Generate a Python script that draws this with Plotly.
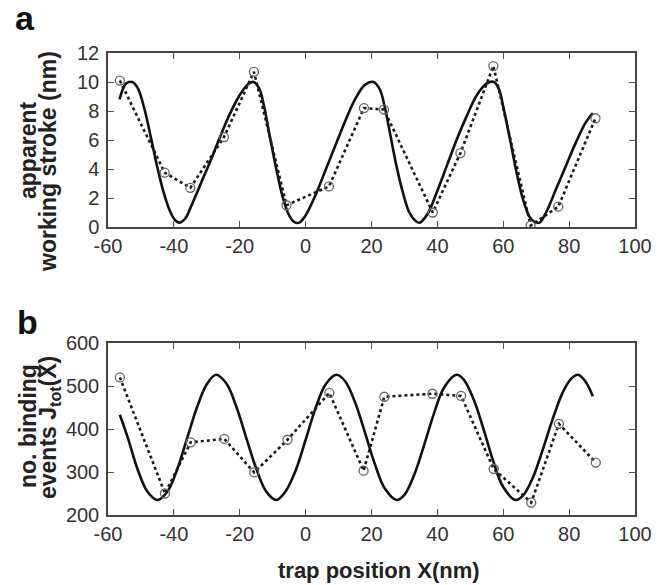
import plotly.graph_objects as go

OFF = 8           # the page body has an 8px margin
W, H = 664 - OFF, 585 - OFF

# ---- Panel a data ----
a_fit_x = [-56.5, -55.5, -54.5, -52.7, -51, -49, -47, -45, -43, -41, -39.5, -38.2, -36.5, -35, -32, -29, -26, -23, -20,
           -17.5, -15.8, -14, -12.5, -11, -9, -7, -5, -3.5, -1.9, 0, 3, 6, 9, 12, 15, 18, 20.6, 22.5, 24, 25.5,
           27.5, 29.5, 31.5, 33.5, 34.6, 37, 40, 43, 46, 49, 52, 55, 57.2, 58.7, 60, 62, 64, 66, 68, 69.5,
           71, 73, 76, 79, 82, 85, 87.2]
a_fit_y = [8.8, 9.5, 9.9, 10.0, 9.6, 8.2, 6.2, 4.1, 2.3, 1.0, 0.45, 0.3, 0.6, 1.3, 2.9, 4.5, 6.2, 7.8, 9.1,
           9.85, 10.0, 9.5, 8.2, 6.4, 4.1, 2.1, 0.8, 0.35, 0.3, 0.8, 2.2, 3.9, 5.6, 7.3, 8.8, 9.8, 10.0, 9.5, 8.3, 6.6,
           4.3, 2.4, 1.0, 0.4, 0.3, 0.9, 2.5, 4.3, 6.1, 7.7, 9.1, 9.9, 10.0, 9.5, 8.3, 6.1, 3.8, 1.9, 0.7, 0.35,
           0.3, 1.0, 2.6, 4.2, 5.8, 7.2, 7.85]
a_data_x = [-56.4, -42.8, -35.0, -24.8, -15.7, -5.8, 7.1, 17.7, 23.8, 38.6, 47.0, 57.0, 68.3, 76.7, 88.0]
a_data_y = [10.1, 3.75, 2.7, 6.2, 10.7, 1.5, 2.8, 8.2, 8.1, 1.0, 5.1, 11.1, 0.1, 1.4, 7.5]

# ---- Panel b data ----
b_fit_x = [-56.4, -54, -51, -48, -45, -42, -39, -36, -33, -30, -27.2, -24, -21, -18, -15, -12, -8.9,
           -6, -3, 0, 3, 6, 9.3, 12, 15, 18, 21, 24, 27.6, 30, 33, 36, 39, 42, 45.8,
           48, 51, 54, 57, 60, 63.7, 66, 69, 72, 75, 78, 80.5, 82.7, 85, 87.2]
b_fit_y = [433, 380, 306, 254, 235, 254, 306, 378, 450, 504, 526, 505, 451, 379, 308, 255, 235,
           256, 304, 375, 448, 503, 526, 511, 462, 392, 319, 262, 235, 247, 294, 363, 437, 496, 526,
           515, 469, 400, 324, 265, 235, 245, 287, 352, 423, 484, 516, 526, 510, 476]
b_data_x = [-56.4, -42.7, -34.9, -24.7, -15.6, -5.5, 7.2, 17.6, 23.9, 38.5, 47.2, 57.1, 68.5, 76.9, 88.1]
b_data_y = [520, 250, 369, 377, 299, 375, 484, 303, 475, 482, 477, 307, 229, 412, 322]

x_ticks = [-60, -40, -20, 0, 20, 40, 60, 80, 100]
x_tick_labels = ["-60", "-40", "-20", "0", "20", "40", "60", "80", "100"]
a_ticks = [0, 2, 4, 6, 8, 10, 12]
b_ticks = [200, 300, 400, 500, 600]


def px(x):
    return (x - OFF) / W


def py(y):
    return 1 - (y - OFF) / H


fig = go.Figure()

line_solid = dict(color="#111111", width=2.6, shape="spline", smoothing=1.0)
line_dash = dict(color="#1a1a1a", width=2.6, dash="3px,3px")
marker = dict(symbol="circle-open", size=9, color="#666666", line=dict(width=1.3, color="#666666"))

fig.add_trace(go.Scatter(x=a_fit_x, y=a_fit_y, mode="lines", line=line_solid, xaxis="x", yaxis="y",
                         showlegend=False, hoverinfo="skip"))
fig.add_trace(go.Scatter(x=a_data_x, y=a_data_y, mode="lines+markers", line=line_dash, marker=marker,
                         xaxis="x", yaxis="y", showlegend=False))
fig.add_trace(go.Scatter(x=b_fit_x, y=b_fit_y, mode="lines", line=line_solid, xaxis="x2", yaxis="y2",
                         showlegend=False, hoverinfo="skip"))
fig.add_trace(go.Scatter(x=b_data_x, y=b_data_y, mode="lines+markers", line=line_dash, marker=marker,
                         xaxis="x2", yaxis="y2", showlegend=False))

tickfont = dict(family="Liberation Sans, Arial, sans-serif", size=20, color="#333333")
axis_common = dict(showline=True, linecolor="#444444", linewidth=1.5, mirror="ticks", ticks="inside",
                   ticklen=6, tickwidth=1, tickcolor="#555555", showgrid=False, zeroline=False,
                   tickfont=tickfont, automargin=False)

xdom = [px(108), px(635)]
fig.update_layout(
    width=W, height=H, margin=dict(l=0, r=0, t=0, b=0),
    paper_bgcolor="white", plot_bgcolor="white",
    xaxis=dict(domain=xdom, range=[-60, 100], tickvals=x_ticks, ticktext=x_tick_labels, anchor="y", **axis_common),
    yaxis=dict(domain=[py(227), py(53)], range=[0, 12], tickvals=a_ticks, anchor="x", ticklabelstandoff=3,
               **axis_common),
    xaxis2=dict(domain=xdom, range=[-60, 100], tickvals=x_ticks, ticktext=x_tick_labels, anchor="y2", **axis_common),
    yaxis2=dict(domain=[py(515), py(343)], range=[200, 600], tickvals=b_ticks, anchor="x2", ticklabelstandoff=3,
                **axis_common),
)

bold = dict(family="Liberation Sans, Arial, sans-serif", size=23, color="#222222")
panel_font = dict(family="Liberation Sans, Arial", size=34, color="#111111")
annots = [
    dict(text="<b>a</b>", x=px(25), y=py(18), font=panel_font),
    dict(text="<b>b</b>", x=px(27), y=py(322), font=panel_font),
    dict(text="<b>apparent</b>", x=px(28), y=py(151), textangle=-90, font=bold),
    dict(text="<b>working stroke (nm)</b>", x=px(48), y=py(162), textangle=-90, font=bold),
    dict(text="<b>no. binding</b>", x=px(28), y=py(426), textangle=-90, font=bold),
    dict(text="<b>events J<sub>tot</sub>(X)</b>", x=px(49), y=py(428), textangle=-90, font=bold),
    dict(text="<b>trap position X(nm)</b>", x=px(379), y=py(570), font=dict(bold, size=22)),
]
for an in annots:
    an.update(xref="paper", yref="paper", showarrow=False, xanchor="center", yanchor="middle")
    fig.add_annotation(**an)

fig.write_html("out.html")
